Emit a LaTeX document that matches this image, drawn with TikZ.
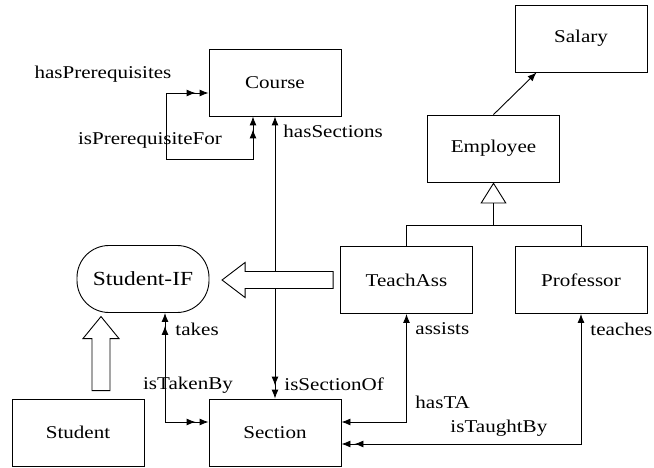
\documentclass[tikz,border=0pt]{standalone}
\usepackage{fontspec}
\setmainfont{Liberation Serif}[FakeStretch=1.17]
\usetikzlibrary{arrows.meta,calc}

\begin{document}
\begin{tikzpicture}[x=1pt,y=-1pt,line width=0.9pt]
		\tikzset{class/.style = {draw, minimum width=132pt, minimum height=67pt, font=\fontsize{18}{21}\selectfont}}
		\tikzset{iface/.style = {class, rounded corners=32pt, font=\fontsize{20}{24}\selectfont}}
		\tikzset{role/.style = {font=\fontsize{18}{21}\selectfont, inner sep=0pt}}
		\tikzset{one/.tip = {Latex[length=9pt,width=7pt]}}
		\tikzset{many/.tip = {Latex[length=9pt,width=7pt,sep=4pt] Latex[length=9pt,width=7pt]}}
		\tikzset{hollow/.style = {draw, fill=white}}
		
		\useasboundingbox (0,0) rectangle (654,468);
		
		\node[class]  (salary)  at (581,  38.5) {Salary};
		\node[class]  (course)  at (275,  82.5) {Course};
		\node[class]  (emp)     at (493.5,148.5) {Employee};
		\node[class]  (teach)   at (406.5,280)  {TeachAss};
		\node[class]  (prof)    at (581,  280)  {Professor};
		\node[iface]  (sif)     at (143,  279)  {Student-IF};
		\node[class]  (student) at (78,   432.5) {Student};
		\node[class]  (section) at (275,  432.5) {Section};
		
		% role names
		\node[role] (hasPre)  at (103, 74)  {hasPrerequisites};
		\node[role] (isPre)   at (150, 140) {isPrerequisiteFor};
		\node[role, anchor=west] (hasSec) at (283, 131) {hasSections};
		\node[role, anchor=west] (isSec)  at (284, 384) {isSectionOf};
		\node[role, anchor=west] (takes)  at (175, 329) {takes};
		\node[role] (isTaken) at (188, 385) {isTakenBy};
		\node[role, anchor=west] (assists) at (415, 329) {assists};
		\node[role, anchor=west] (hasTA)   at (415, 402) {hasTA};
		\node[role, anchor=west] (isTaught) at (450, 428) {isTaughtBy};
		\node[role, anchor=west] (teaches) at (590, 329) {teaches};
		
		% associations
		\draw[many-many] ([xshift=-22pt]course.south) -- ++(0,43) -- ++(-87,0) |- ([yshift=-10.5pt]course.west);
		\draw[one-many] (course) -- (section);
		\draw[many-many] ([xshift=22pt]sif.south) |- ([yshift=10.5pt]section.west);
		\draw[one-one] ([yshift=10.5pt]section.east) -| (teach.south);
		\draw[many-one] ([yshift=-11.5pt]section.east) -| (prof.south);
		\draw[-one] (emp.north) -- ([xshift=22pt]salary.south west);
		
		% generalisation
		\coordinate (fork) at ($(emp.south)+(0,43)$);
		\draw (teach.north) |- (fork) -| (prof.north);
		\draw[-{Triangle[open,fill=white,length=21pt,width=26pt]}] (fork) -- (emp.south);
		
		% implements
		\draw[hollow] ($(teach.west)+(-7,-8.5)$) -- ++(-88,0) -- ++(0,-9) -- ++(-23,17.5) -- ++(23,17.5) -- ++(0,-9) -- ++(88,0) -- cycle;
		\draw[hollow] ($(student.north)+(14,-8)$) -- ++(0,-52) -- ++(-9,0) -- ++(18,-22) -- ++(18,22) -- ++(-9,0) -- ++(0,52) -- cycle;
		\end{tikzpicture}
\end{document}
